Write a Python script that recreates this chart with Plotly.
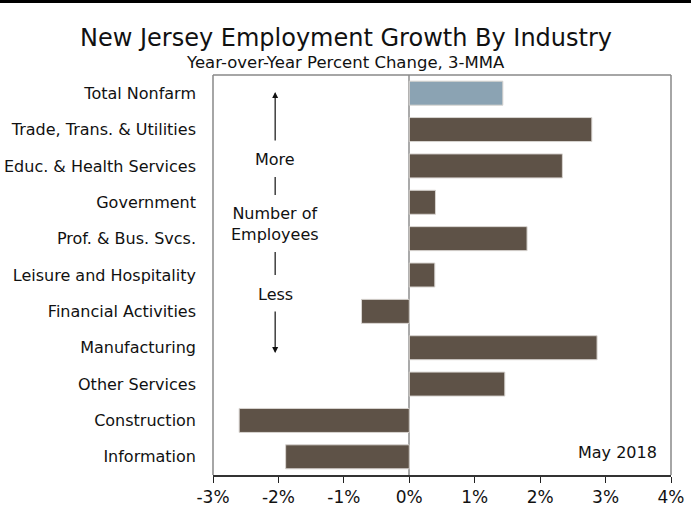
import plotly.graph_objects as go

categories = ["Total Nonfarm", "Trade, Trans. & Utilities", "Educ. & Health Services",
              "Government", "Prof. & Bus. Svcs.", "Leisure and Hospitality",
              "Financial Activities", "Manufacturing", "Other Services",
              "Construction", "Information"]
values = [1.43, 2.79, 2.34, 0.40, 1.80, 0.39, -0.73, 2.87, 1.46, -2.60, -1.89]
bar_colors = ["#8BA3B3"] + ["#5E5247"] * 10
tick_vals = [-3, -2, -1, 0, 1, 2, 3, 4]
tick_text = ["-3%", "-2%", "-1%", "0%", "1%", "2%", "3%", "4%"]

FONT = "DejaVu Sans"

fig = go.Figure(go.Bar(
    x=values, y=categories, orientation="h",
    marker=dict(color=bar_colors, line=dict(color="#D8D4D0", width=1)),
    width=0.66,
))

fig.update_layout(
    width=691, height=531,
    margin=dict(l=213, r=20, t=75, b=56, autoexpand=False),
    paper_bgcolor="white", plot_bgcolor="white",
    font=dict(family=FONT, size=16, color="#111111"),
    showlegend=False,
    xaxis=dict(range=[-3, 4], tickvals=tick_vals, ticktext=tick_text, automargin=False,
               ticks="outside", ticklen=6, tickcolor="#222", showgrid=False,
               zeroline=True, zerolinecolor="#AAAAAA", zerolinewidth=1.5,
               showline=True, linecolor="#333", linewidth=2,
               tickfont=dict(size=17, family=FONT), fixedrange=True),
    yaxis=dict(categoryorder="array", categoryarray=categories[::-1], automargin=False,
               showgrid=False, ticks="", showline=False, fixedrange=True,
               tickfont=dict(size=16, family=FONT), ticklabelstandoff=16),
)

PW = 457.7
PH = 400.0
def px(xpix):
    return (xpix - 213) / PW
def py(ypix):
    return (475 - ypix) / PH

ann = []
ann.append(dict(text="New Jersey Employment Growth By Industry", xref="paper", yref="paper",
                x=px(346), y=py(38), xanchor="center", yanchor="middle", showarrow=False,
                font=dict(size=24, family=FONT, color="#111")))
ann.append(dict(text="Year-over-Year Percent Change, 3-MMA", xref="paper", yref="paper",
                x=px(345), y=py(62), xanchor="center", yanchor="middle", showarrow=False,
                font=dict(size=16.5, family=FONT, color="#111")))
ax = -2.05
ann.append(dict(text="More", x=ax, y=py(159), xref="x", yref="paper", xanchor="center",
                yanchor="middle", showarrow=False, font=dict(size=16)))
ann.append(dict(text="Number of<br>Employees", x=ax, y=py(224), xref="x", yref="paper",
                xanchor="center", yanchor="middle", showarrow=False, font=dict(size=16)))
ann.append(dict(text="Less", x=ax, y=py(294), xref="x", yref="paper", xanchor="center",
                yanchor="middle", showarrow=False, font=dict(size=16)))
ann.append(dict(text="May 2018", x=px(659), y=py(452), xref="paper",
                yref="paper", xanchor="right", yanchor="middle", showarrow=False,
                font=dict(size=16)))
# arrows
ann.append(dict(text="", x=ax, y=py(92), ax=ax, ay=py(142),
                xref="x", yref="y domain", axref="x", ayref="y domain",
                showarrow=True, arrowhead=2, arrowsize=1, arrowwidth=1.2, arrowcolor="#111"))
ann.append(dict(text="", x=ax, y=py(353), ax=ax, ay=py(310),
                xref="x", yref="y domain", axref="x", ayref="y domain",
                showarrow=True, arrowhead=2, arrowsize=1, arrowwidth=1.2, arrowcolor="#111"))
fig.layout.annotations = ann

shapes = [
    dict(type="line", xref="paper", yref="paper", x0=0, x1=0, y0=0, y1=1, line=dict(color="#888", width=1.5)),
    dict(type="line", xref="paper", yref="paper", x0=0, x1=1, y0=1, y1=1, line=dict(color="#888", width=1.5)),
    dict(type="line", xref="paper", yref="paper", x0=1, x1=1, y0=0, y1=1, line=dict(color="#888", width=1.5)),
    dict(type="line", xref="x", yref="paper", x0=ax, x1=ax, y0=py(177), y1=py(195),
         line=dict(color="#111", width=1.2)),
    dict(type="line", xref="x", yref="paper", x0=ax, x1=ax, y0=py(252), y1=py(275),
         line=dict(color="#111", width=1.2)),
    dict(type="rect", xref="paper", yref="paper", x0=px(0), x1=px(691),
         y0=py(3), y1=py(-2), fillcolor="black", line=dict(width=0)),
]
fig.layout.shapes = shapes

fig.write_html("out.html", config={"displayModeBar": False},
               post_script="document.body.style.margin='0';")
